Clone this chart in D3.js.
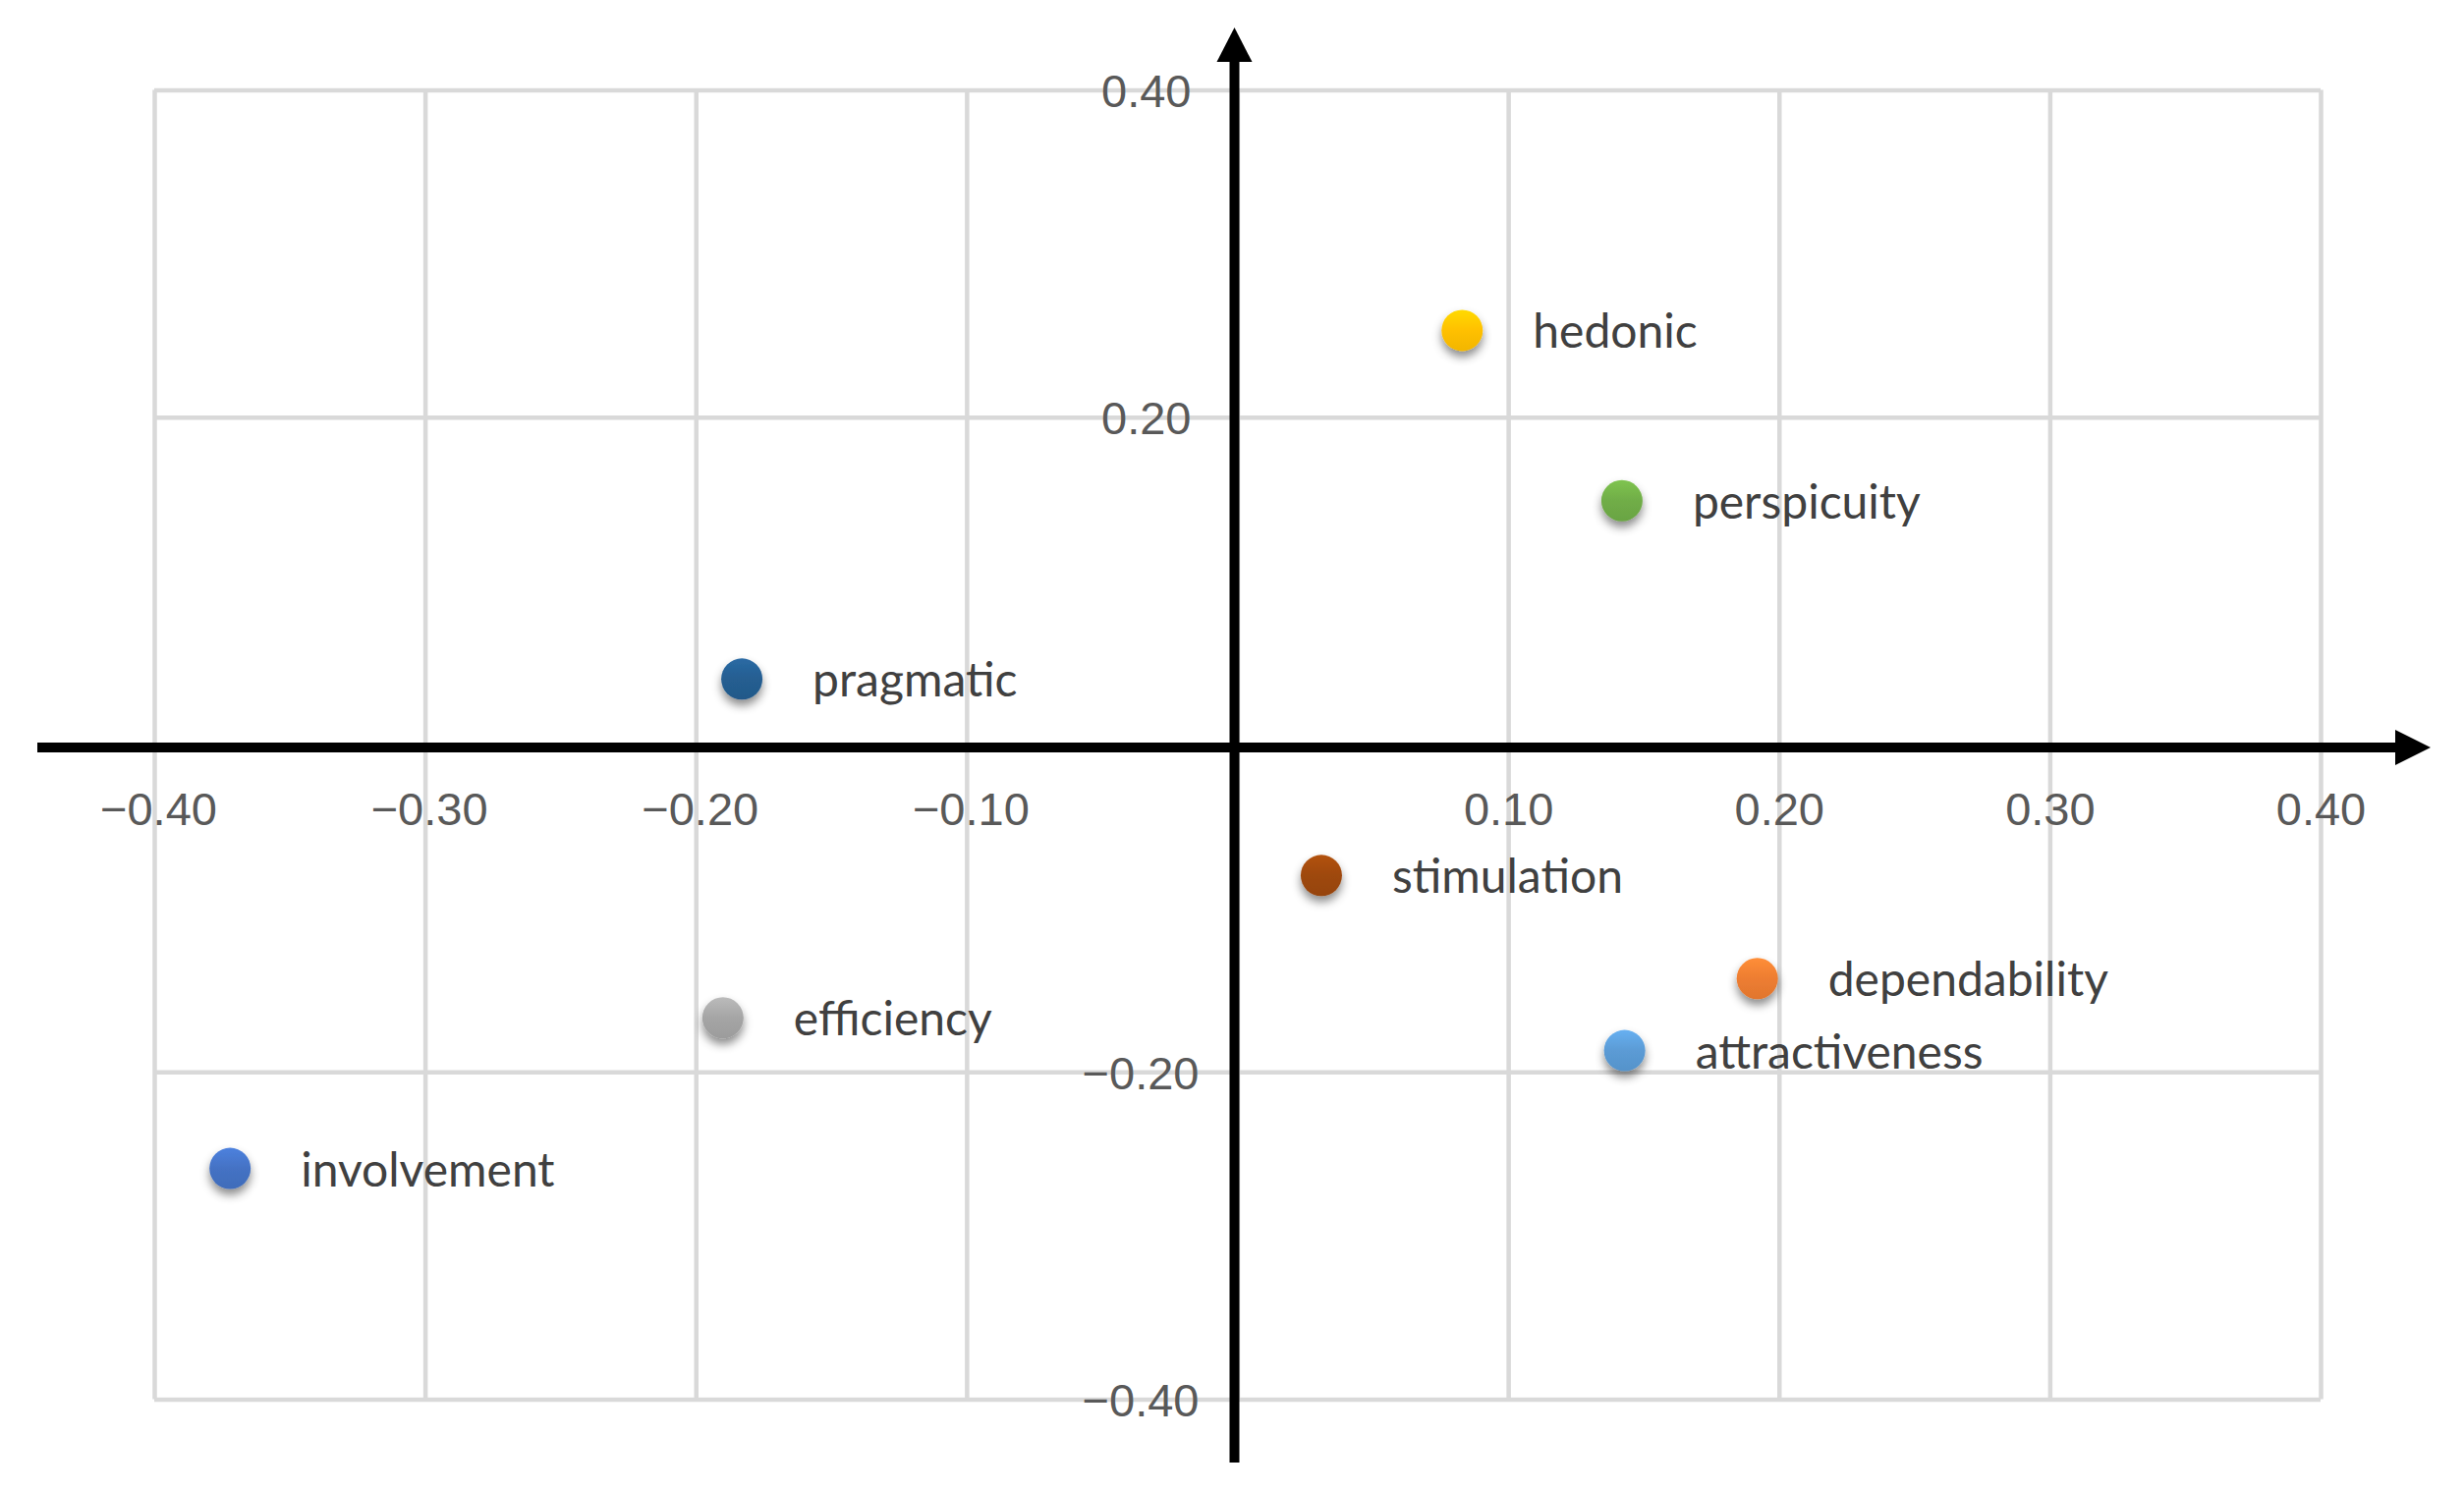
<!DOCTYPE html>
<html>
<head>
<meta charset="utf-8">
<script src="https://cdn.jsdelivr.net/npm/d3@7"></script>
<style>
  body { margin: 0; background: #fff; }
  .tick text { font-family: "Liberation Sans", Arial, sans-serif; font-size: 47px; fill: #595959; }
  .label { font-family: Lato, "Open Sans", sans-serif; font-size: 48px; fill: #404040; }
</style>
</head>
<body>
<div id="chart"></div>
<script>
// data
var names = ["hedonic", "perspicuity", "pragmatic", "stimulation", "dependability", "attractiveness", "efficiency", "involvement"];
var xValues = [0.083, 0.142, -0.183, 0.031, 0.192, 0.143, -0.190, -0.372];
var yValues = [0.253, 0.149, 0.040, -0.080, -0.143, -0.187, -0.167, -0.259];
var colors = ["#FFC000", "#70AD47", "#255E91", "#9E480E", "#ED7D31", "#5B9BD5", "#A5A5A5", "#4472C4"];
var xTicks = [-0.4, -0.3, -0.2, -0.1, 0.1, 0.2, 0.3, 0.4];
var yTicks = [0.4, 0.2, -0.2, -0.4];
var xGrid = [-0.4, -0.3, -0.2, -0.1, 0, 0.1, 0.2, 0.3, 0.4];
var yGrid = [-0.4, -0.2, 0, 0.2, 0.4];

var svgWidth = 2508;
var svgHeight = 1519;

var plot = { left: 157, right: 2362, top: 91.5, bottom: 1424.5 };

var svg = d3.select("#chart").append("svg")
    .attr("width", svgWidth)
    .attr("height", svgHeight)
    .style("display", "block");

svg.append("rect").attr("width", svgWidth).attr("height", svgHeight).attr("fill", "#fff");

var x = d3.scaleLinear().domain([-0.4, 0.4]).range([plot.left, plot.right]);
var y = d3.scaleLinear().domain([-0.4, 0.4]).range([plot.bottom, plot.top]);

var fmt = d3.format(".2f");

var defs = svg.append("defs");

var shadow = defs.append("filter")
    .attr("id", "shadow")
    .attr("x", "-50%").attr("y", "-50%")
    .attr("width", "200%").attr("height", "200%");
shadow.append("feDropShadow")
    .attr("dx", 0).attr("dy", 6)
    .attr("stdDeviation", 5)
    .attr("flood-color", "#000")
    .attr("flood-opacity", 0.45);

colors.forEach(function(c, i) {
    var g = defs.append("linearGradient")
        .attr("id", "grad" + i)
        .attr("x1", 0).attr("y1", 0).attr("x2", 0).attr("y2", 1);
    g.append("stop").attr("offset", "0%").attr("stop-color", d3.color(c).brighter(0.35));
    g.append("stop").attr("offset", "50%").attr("stop-color", c);
    g.append("stop").attr("offset", "100%").attr("stop-color", d3.color(c).darker(0.15));
});

// gridlines
var xGridAxis = svg.append("g")
    .attr("transform", `translate(0, ${plot.bottom})`)
    .call(d3.axisBottom(x).tickValues(xGrid).tickSize(-(plot.bottom - plot.top)).tickFormat(""));
var yGridAxis = svg.append("g")
    .attr("transform", `translate(${plot.left}, 0)`)
    .call(d3.axisLeft(y).tickValues(yGrid).tickSize(-(plot.right - plot.left)).tickFormat(""));
[xGridAxis, yGridAxis].forEach(function(a) {
    a.select(".domain").remove();
    a.selectAll("line").attr("stroke", "#d9d9d9").attr("stroke-width", 4.5);
});

// tick labels
var xAxis = svg.append("g")
    .attr("transform", `translate(0, ${y(0)})`)
    .call(d3.axisBottom(x).tickValues(xTicks).tickSize(0).tickPadding(49).tickFormat(fmt));
xAxis.select(".domain").remove();
xAxis.selectAll("text").attr("dx", d => d < 0 ? 4 : 0);

var yAxis = svg.append("g")
    .attr("transform", `translate(${x(0)}, 0)`)
    .call(d3.axisLeft(y).tickValues(yTicks).tickSize(0).tickPadding(43).tickFormat(fmt));
yAxis.select(".domain").remove();
yAxis.selectAll("text")
    .attr("dy", "0.36em")
    .attr("dx", d => d > 0 ? -4 : 4);

// black axes with arrows
var axisY = y(0) + 3;
var axisX = x(0) - 3;
svg.append("line")
    .attr("x1", 38).attr("x2", 2440)
    .attr("y1", axisY).attr("y2", axisY)
    .attr("stroke", "#000").attr("stroke-width", 10);
svg.append("path")
    .attr("d", `M2438,${axisY - 18} L2474,${axisY} L2438,${axisY + 18} Z`)
    .attr("fill", "#000");
svg.append("line")
    .attr("x1", axisX).attr("x2", axisX)
    .attr("y1", 1489).attr("y2", 61)
    .attr("stroke", "#000").attr("stroke-width", 10);
svg.append("path")
    .attr("d", `M${axisX - 18},63 L${axisX},28 L${axisX + 18},63 Z`)
    .attr("fill", "#000");

// points
var points = names.map(function(n, i) {
    return { name: n, x: xValues[i], y: yValues[i], i: i };
});

svg.append("g").selectAll("circle")
    .data(points)
    .enter()
    .append("circle")
    .attr("cx", d => x(d.x))
    .attr("cy", d => y(d.y))
    .attr("r", 21)
    .attr("fill", d => `url(#grad${d.i})`)
    .attr("filter", "url(#shadow)");

svg.append("g").selectAll("text")
    .data(points)
    .enter()
    .append("text")
    .attr("class", "label")
    .attr("x", d => x(d.x) + 72)
    .attr("y", d => y(d.y) + 18)
    .text(d => d.name);
</script>
</body>
</html>
